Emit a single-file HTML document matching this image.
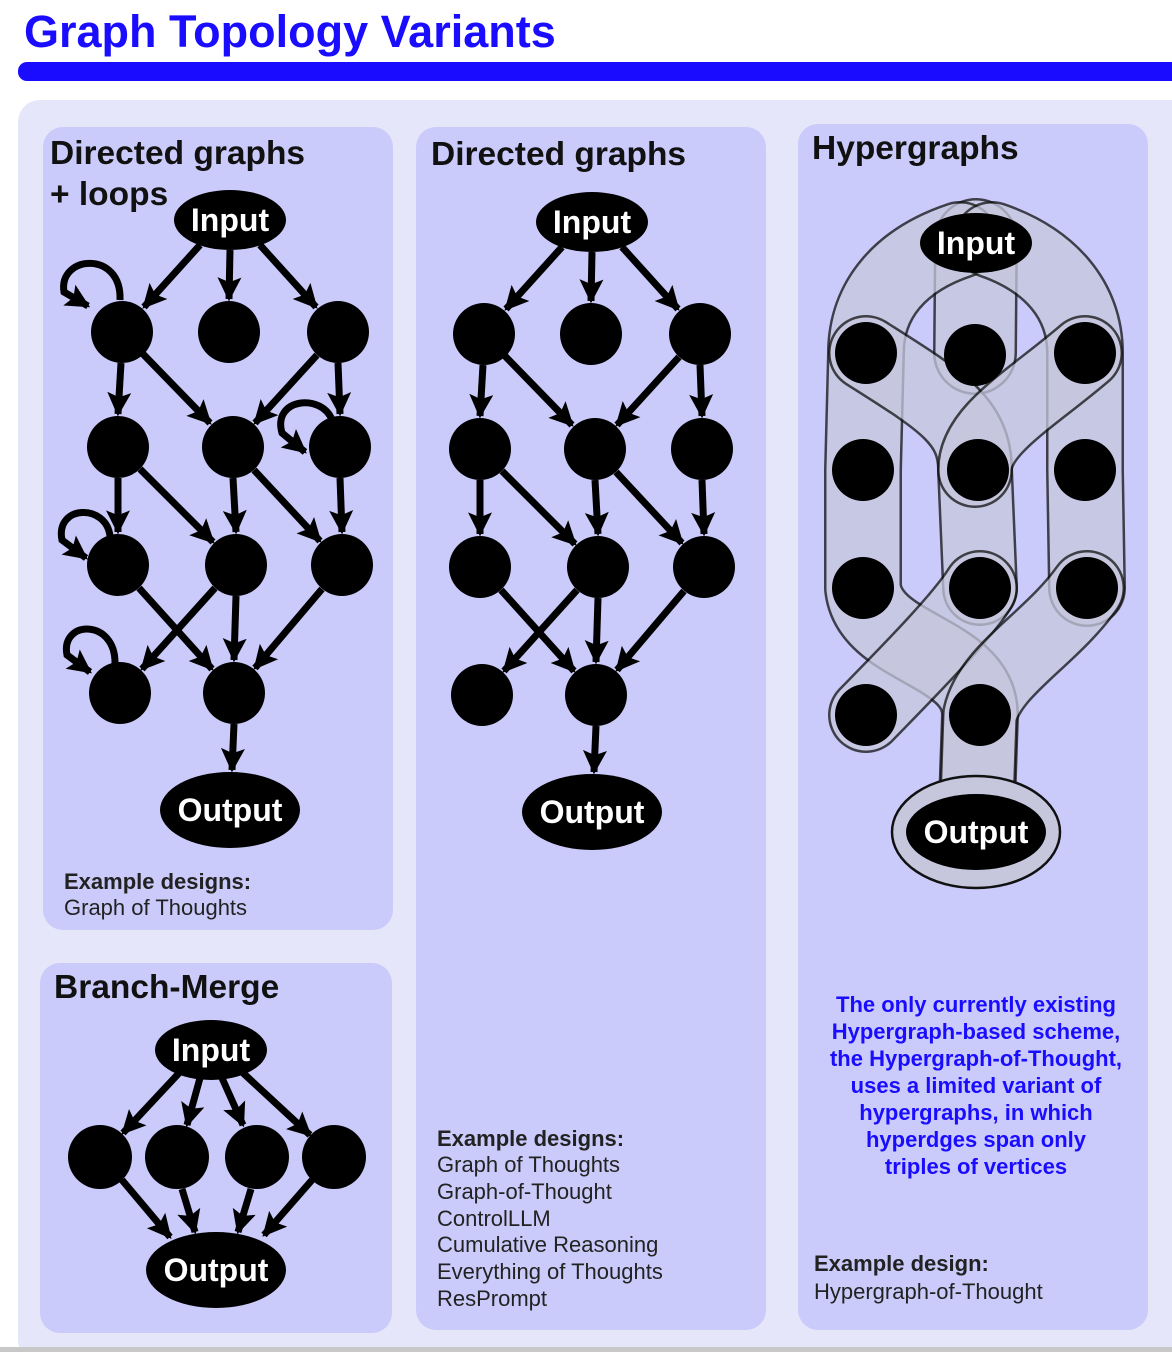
<!DOCTYPE html>
<html><head><meta charset="utf-8"><style>
html,body{margin:0;padding:0;background:#fff;}
svg{display:block;font-family:"Liberation Sans",sans-serif;}
</style></head><body>
<svg width="1172" height="1352" viewBox="0 0 1172 1352" xmlns="http://www.w3.org/2000/svg">
<defs>
<marker id="a" viewBox="0 0 10 10" refX="9" refY="5" markerWidth="26" markerHeight="24" markerUnits="userSpaceOnUse" orient="auto"><path d="M0,0 L10,5 L0,10 L2,5 z" fill="#000"/></marker>
</defs>
<rect width="1172" height="1352" fill="#fff"/>
<text x="24" y="47" font-size="45" font-weight="bold" fill="#1a0dff">Graph Topology Variants</text>
<rect x="18" y="62" width="1170" height="19" rx="9" fill="#1a0dff"/>
<rect x="18" y="100" width="1180" height="1262" rx="22" fill="#e6e6fb"/>
<rect x="0" y="1347" width="1172" height="5" fill="#c8c8c8"/>
<rect x="43" y="127" width="350" height="803" rx="20" fill="#cbcbfb"/>
<rect x="40" y="963" width="352" height="370" rx="20" fill="#cbcbfb"/>
<rect x="416" y="127" width="350" height="1203" rx="20" fill="#cbcbfb"/>
<rect x="798" y="124" width="350" height="1206" rx="20" fill="#cbcbfb"/>

<g font-size="33.5" font-weight="bold" fill="#111">
<text x="50" y="164">Directed graphs</text>
<text x="50" y="205">+ loops</text>
<text x="431" y="165">Directed graphs</text>
<text x="812" y="159">Hypergraphs</text>
<text x="54" y="998">Branch-Merge</text>
</g>

<!-- Graph 1 -->
<g stroke="#000" stroke-width="7" fill="none" marker-end="url(#a)">
<line x1="200" y1="245" x2="144" y2="307"/>
<line x1="230" y1="250" x2="229" y2="299"/>
<line x1="260" y1="245" x2="316" y2="307"/>
<line x1="121" y1="363" x2="118" y2="414"/>
<line x1="143" y1="354" x2="210" y2="423"/>
<line x1="317" y1="355" x2="255" y2="423"/>
<line x1="338" y1="363" x2="340" y2="414"/>
<line x1="118" y1="478" x2="118" y2="532"/>
<line x1="140" y1="469" x2="213" y2="542"/>
<line x1="233" y1="478" x2="236" y2="532"/>
<line x1="254" y1="470" x2="320" y2="541"/>
<line x1="340" y1="478" x2="342" y2="532"/>
<line x1="139" y1="588" x2="212" y2="669"/>
<line x1="215" y1="588" x2="142" y2="669"/>
<line x1="236" y1="596" x2="234" y2="660"/>
<line x1="322" y1="589" x2="255" y2="668"/>
<line x1="234" y1="724" x2="232" y2="770"/>
</g>
<g fill="#000">
<circle cx="122" cy="332" r="31"/><circle cx="229" cy="332" r="31"/><circle cx="338" cy="332" r="31"/>
<circle cx="118" cy="447" r="31"/><circle cx="233" cy="447" r="31"/><circle cx="340" cy="447" r="31"/>
<circle cx="118" cy="565" r="31"/><circle cx="236" cy="565" r="31"/><circle cx="342" cy="565" r="31"/>
<circle cx="120" cy="693" r="31"/><circle cx="234" cy="693" r="31"/>
<ellipse cx="230" cy="220" rx="56" ry="30"/>
<ellipse cx="230" cy="810" rx="70" ry="38"/>
</g>
<g stroke="#000" stroke-width="7" fill="none" marker-end="url(#a)">
<path d="M120,300 C122,250 58,255 64,292 L88,306"/>
<path d="M332,420 C322,393 272,398 282,433 L305,452"/>
<path d="M110,536 C106,503 55,505 62,540 L86,558"/>
<path d="M115,664 C116,618 60,620 67,655 L90,672"/>
</g>
<g font-size="32" font-weight="bold" fill="#fff" text-anchor="middle">
<text x="230" y="231">Input</text>
<text x="230" y="821">Output</text>
</g>

<!-- Graph 2 -->
<g transform="translate(362,2)">
<g stroke="#000" stroke-width="7" fill="none" marker-end="url(#a)">
<line x1="200" y1="245" x2="144" y2="307"/>
<line x1="230" y1="250" x2="229" y2="299"/>
<line x1="260" y1="245" x2="316" y2="307"/>
<line x1="121" y1="363" x2="118" y2="414"/>
<line x1="143" y1="354" x2="210" y2="423"/>
<line x1="317" y1="355" x2="255" y2="423"/>
<line x1="338" y1="363" x2="340" y2="414"/>
<line x1="118" y1="478" x2="118" y2="532"/>
<line x1="140" y1="469" x2="213" y2="542"/>
<line x1="233" y1="478" x2="236" y2="532"/>
<line x1="254" y1="470" x2="320" y2="541"/>
<line x1="340" y1="478" x2="342" y2="532"/>
<line x1="139" y1="588" x2="212" y2="669"/>
<line x1="215" y1="588" x2="142" y2="669"/>
<line x1="236" y1="596" x2="234" y2="660"/>
<line x1="322" y1="589" x2="255" y2="668"/>
<line x1="234" y1="724" x2="232" y2="770"/>
</g>
<g fill="#000">
<circle cx="122" cy="332" r="31"/><circle cx="229" cy="332" r="31"/><circle cx="338" cy="332" r="31"/>
<circle cx="118" cy="447" r="31"/><circle cx="233" cy="447" r="31"/><circle cx="340" cy="447" r="31"/>
<circle cx="118" cy="565" r="31"/><circle cx="236" cy="565" r="31"/><circle cx="342" cy="565" r="31"/>
<circle cx="120" cy="693" r="31"/><circle cx="234" cy="693" r="31"/>
<ellipse cx="230" cy="220" rx="56" ry="30"/>
<ellipse cx="230" cy="810" rx="70" ry="38"/>
</g>
<g font-size="32" font-weight="bold" fill="#fff" text-anchor="middle">
<text x="230" y="231">Input</text>
<text x="230" y="821">Output</text>
</g>
</g>

<!-- Branch merge -->
<g stroke="#000" stroke-width="7" fill="none" marker-end="url(#a)">
<line x1="180" y1="1072" x2="123" y2="1133"/>
<line x1="200" y1="1078" x2="187" y2="1125"/>
<line x1="222" y1="1078" x2="243" y2="1125"/>
<line x1="242" y1="1072" x2="310" y2="1135"/>
<line x1="122" y1="1180" x2="170" y2="1237"/>
<line x1="182" y1="1189" x2="195" y2="1232"/>
<line x1="251" y1="1189" x2="238" y2="1232"/>
<line x1="312" y1="1180" x2="264" y2="1235"/>
</g>
<g fill="#000">
<circle cx="100" cy="1157" r="32"/><circle cx="177" cy="1157" r="32"/><circle cx="257" cy="1157" r="32"/><circle cx="334" cy="1157" r="32"/>
<ellipse cx="211" cy="1050" rx="56" ry="30"/>
<ellipse cx="216" cy="1270" rx="70" ry="38"/>
</g>
<g font-size="32" font-weight="bold" fill="#fff" text-anchor="middle">
<text x="211" y="1061">Input</text>
<text x="216" y="1281">Output</text>
</g>

<!-- Hypergraph -->
<g fill="none" stroke-linecap="round" stroke-linejoin="round">
<g opacity="0.75"><path d="M976,240 L975,353" stroke="#111" stroke-width="84"/><path d="M976,240 L975,353" stroke="#c6c7dd" stroke-width="79"/></g>
<g opacity="0.75"><path d="M960,240 C900,260 866,300 866,353 L863,470 L863,588 C870,650 980,650 980,715 L976,832" stroke="#111" stroke-width="78"/><path d="M960,240 C900,260 866,300 866,353 L863,470 L863,588 C870,650 980,650 980,715 L976,832" stroke="#c6c7dd" stroke-width="73"/></g>
<g opacity="0.75"><path d="M992,240 C1050,260 1085,300 1085,353 L1085,470 L1087,588" stroke="#111" stroke-width="78"/><path d="M992,240 C1050,260 1085,300 1085,353 L1085,470 L1087,588" stroke="#c6c7dd" stroke-width="73"/></g>
<g opacity="0.75"><path d="M866,353 C940,400 975,420 975,470 L980,588" stroke="#111" stroke-width="76"/><path d="M866,353 C940,400 975,420 975,470 L980,588" stroke="#c6c7dd" stroke-width="71"/></g>
<g opacity="0.75"><path d="M1085,353 C1030,400 975,430 975,470" stroke="#111" stroke-width="76"/><path d="M1085,353 C1030,400 975,430 975,470" stroke="#c6c7dd" stroke-width="71"/></g>
<g opacity="0.75"><path d="M866,715 C900,680 960,620 980,588" stroke="#111" stroke-width="76"/><path d="M866,715 C900,680 960,620 980,588" stroke="#c6c7dd" stroke-width="71"/></g>
<g opacity="0.75"><path d="M1087,588 C1050,640 990,670 980,715 L976,832" stroke="#111" stroke-width="76"/><path d="M1087,588 C1050,640 990,670 980,715 L976,832" stroke="#c6c7dd" stroke-width="71"/></g>
<ellipse cx="976" cy="832" rx="84" ry="56" fill="#c6c7dd" stroke="#111" stroke-width="2.5"/>
</g>
<g fill="#000">
<circle cx="866" cy="353" r="31"/><circle cx="975" cy="355" r="31"/><circle cx="1085" cy="353" r="31"/>
<circle cx="863" cy="470" r="31"/><circle cx="978" cy="470" r="31"/><circle cx="1085" cy="470" r="31"/>
<circle cx="863" cy="588" r="31"/><circle cx="980" cy="588" r="31"/><circle cx="1087" cy="588" r="31"/>
<circle cx="866" cy="715" r="31"/><circle cx="980" cy="715" r="31"/>
<ellipse cx="976" cy="243" rx="56" ry="30"/>
<ellipse cx="976" cy="832" rx="70" ry="38"/>
</g>
<g font-size="32" font-weight="bold" fill="#fff" text-anchor="middle">
<text x="976" y="254">Input</text>
<text x="976" y="843">Output</text>
</g>

<!-- Text -->
<g font-size="22" fill="#222">
<text x="64" y="889" font-weight="bold">Example designs:</text>
<text x="64" y="915">Graph of Thoughts</text>
<text x="437" y="1146" font-weight="bold">Example designs:</text>
<text x="437" y="1172">Graph of Thoughts</text>
<text x="437" y="1199">Graph-of-Thought</text>
<text x="437" y="1226">ControlLLM</text>
<text x="437" y="1252">Cumulative Reasoning</text>
<text x="437" y="1279">Everything of Thoughts</text>
<text x="437" y="1306">ResPrompt</text>
<text x="814" y="1271" font-weight="bold">Example design:</text>
<text x="814" y="1299">Hypergraph-of-Thought</text>
</g>
<g font-size="22" font-weight="bold" fill="#1a0dff" text-anchor="middle">
<text x="976" y="1012">The only currently existing</text>
<text x="976" y="1039">Hypergraph-based scheme,</text>
<text x="976" y="1066">the Hypergraph-of-Thought,</text>
<text x="976" y="1093">uses a limited variant of</text>
<text x="976" y="1120">hypergraphs, in which</text>
<text x="976" y="1147">hyperdges span only</text>
<text x="976" y="1174">triples of vertices</text>
</g>
</svg>
</body></html>
